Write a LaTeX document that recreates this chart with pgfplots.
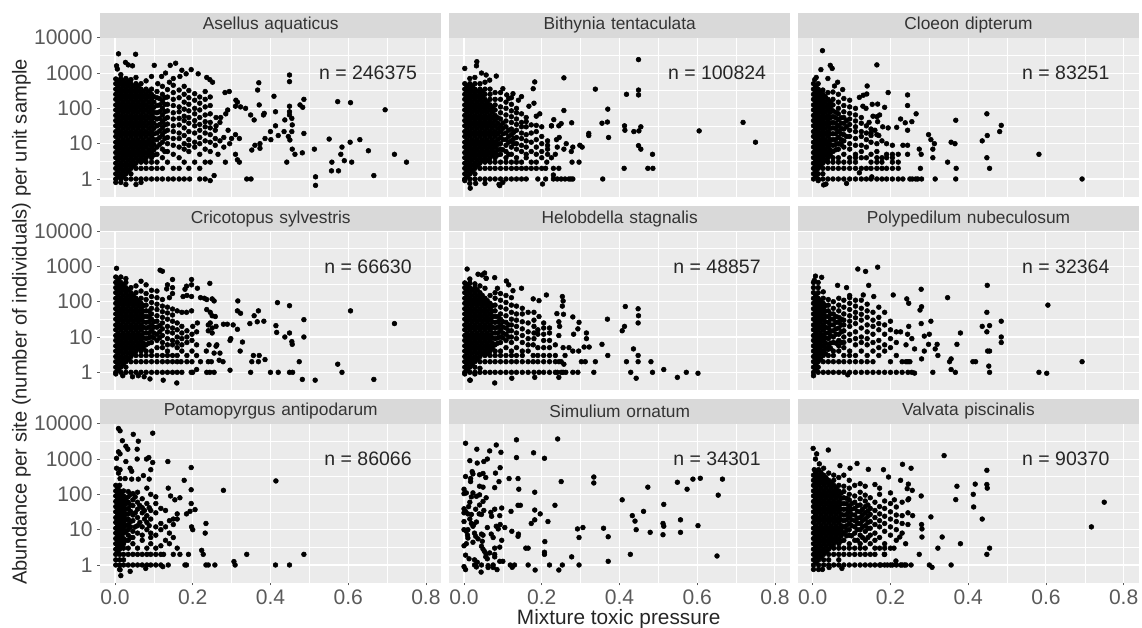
\documentclass[border=0pt]{standalone}
\usepackage{pgfplots}
\pgfplotsset{compat=1.18}
\usepackage{fontspec}
\setmainfont{Liberation Sans}
\definecolor{panelbg}{HTML}{EBEBEB}
\definecolor{stripbg}{HTML}{D9D9D9}
\definecolor{ticktxt}{HTML}{5A5A5A}
\definecolor{striptxt}{HTML}{333333}
\pgfplotsset{
  panel/.style={
    at={(#1)},anchor=south west,scale only axis,
    width=256.1pt,height=120pt,
    xmin=-0.0386,xmax=0.84,ymin=0.316,ymax=10715,
    axis background/.style={fill=panelbg},
    axis line style={draw=none},
    xtick={0,0.2,0.4,0.6,0.8},minor xtick={0.1,0.3,0.5,0.7},
    ytick={1,10,100,1000,10000},minor ytick={3.162,31.62,316.2,3162},
    grid=both,major grid style={white,line width=0.8pt},minor grid style={white,line width=0.35pt},
    minor tick length=0pt,major tick length=2pt,tick align=outside,
    xticklabels={},yticklabels={},
    x tick style={draw=none},y tick style={draw=none},
    tick label style={font=\fontsize{15.8pt}{17pt}\selectfont,text=ticktxt},
    xtick pos=bottom,ytick pos=left,
    title style={at={(0.5,1)},anchor=south,yshift=-6.9pt,fill=stripbg,inner sep=0pt,
      text width=256.1pt,align=center,minimum height=18.4pt,text=striptxt,
      font=\fontsize{13pt}{14pt}\selectfont},
  },
  lft/.style={yticklabels={1,10,100,1000,10000},y tick style={draw=ticktxt,line width=0.5pt}},
  bot/.style={xticklabels={0.0,0.2,0.4,0.6,0.8},x tick style={draw=ticktxt,line width=0.5pt}},
  pts/.style={only marks,mark=*,mark size=1.8pt,mark options={fill=black,draw=none},black},
}
\newcommand{\nlab}[1]{\node[font=\fontsize{14.6pt}{16pt}\selectfont,text=black!85] at (rel axis cs:0.785,0.773) {n = #1};}
\begin{document}
\begin{tikzpicture}
\path[use as bounding box] (0pt,0pt) rectangle (856.5pt,471pt);
% row 1
\begin{semilogyaxis}[panel={75pt,323.5pt},lft,title={Asellus aquaticus}]
\addplot[pts] coordinates {(.002,.8)(.002,1)(.002,1.4)(.002,2)(.002,2.8)(.002,4)(.002,5.6)(.002,8)(.002,11)(.002,16)(.002,22)(.002,32)(.002,45)(.002,63)(.002,90)(.002,125)(.002,180)(.002,250)(.002,350)(.002,500)(.002,680)
(.015,.8)(.015,1)(.015,1.4)(.015,2)(.015,2.8)(.015,4)(.015,5.6)(.015,8)(.015,11)(.015,16)(.015,22)(.015,32)(.015,45)(.015,63)(.015,90)(.015,125)(.015,180)(.015,250)(.015,350)(.015,500)(.015,700)(.015,900)
(.028,.7)(.028,1)(.028,1.4)(.028,2)(.028,2.8)(.028,4)(.028,5.6)(.028,8)(.028,11)(.028,16)(.028,22)(.028,32)(.028,45)(.028,63)(.028,90)(.028,125)(.028,180)(.028,250)(.028,350)(.028,500)(.028,700)
(.041,1)(.041,1.4)(.041,2)(.041,2.8)(.041,4)(.041,5.6)(.041,8)(.041,11)(.041,16)(.041,22)(.041,32)(.041,45)(.041,63)(.041,90)(.041,125)(.041,180)(.041,250)(.041,350)(.041,500)(.041,650)
(.054,.7)(.054,1)(.054,2)(.054,2.8)(.054,4)(.054,5.6)(.054,8)(.054,11)(.054,16)(.054,22)(.054,32)(.054,45)(.054,63)(.054,90)(.054,125)(.054,180)(.054,250)(.054,350)(.054,500)(.054,750)
(.067,.8)(.067,1)(.067,2)(.067,3)(.067,4)(.067,5.6)(.067,8)(.067,11)(.067,16)(.067,22)(.067,32)(.067,45)(.067,63)(.067,90)(.067,125)(.067,180)(.067,250)(.067,350)(.067,500)
(.08,1)(.08,2)(.08,3)(.08,4)(.08,5.6)(.08,8)(.08,11)(.08,16)(.08,22)(.08,32)(.08,45)(.08,63)(.08,90)(.08,125)(.08,180)(.08,250)(.08,350)(.08,600)
(.094,1)(.094,2)(.094,3)(.094,4)(.094,5.6)(.094,8)(.094,11)(.094,16)(.094,22)(.094,32)(.094,45)(.094,63)(.094,90)(.094,125)(.094,180)(.094,250)(.094,350)(.094,800)
(.009,3500)(.053,3400)(.027,2000)(.034,1700)(.045,1600)(.004,1600)(.006,1300)(.101,1650)(.142,1650)(.156,1900)(.172,1200)(.196,1250)(.214,950)(.183,950)(.167,800)(.236,750)(.244,650)(.251,550)(.13,1000)(.12,800)(.15,700)
(.108,1)(.108,2)(.108,3)(.108,5)(.108,8)(.108,13)(.108,20)(.108,32)(.108,50)(.108,75)(.108,120)(.108,200)(.108,300)(.11,500)
(.122,1)(.122,2)(.122,4)(.122,7)(.122,11)(.122,18)(.122,28)(.122,42)(.122,65)(.122,100)(.122,160)(.122,250)(.122,420)
(.137,1)(.135,3)(.135,6)(.135,10)(.135,15)(.135,24)(.135,36)(.135,55)(.135,85)(.135,130)(.135,210)(.135,340)(.14,550)
(.15,1)(.15,2)(.15,5)(.15,9)(.15,14)(.15,22)(.15,32)(.15,50)(.15,75)(.15,120)(.15,180)(.15,280)(.15,450)
(.165,1)(.165,2)(.165,4)(.165,8)(.165,14)(.165,20)(.165,34)(.165,52)(.165,80)(.165,110)(.165,200)(.165,330)
(.178,1)(.178,3)(.178,7)(.178,10)(.178,17)(.178,28)(.178,45)(.178,60)(.178,95)(.178,150)(.178,250)(.178,420)
(.192,1)(.19,2)(.19,6)(.19,9)(.19,13)(.19,22)(.19,38)(.19,55)(.19,85)(.19,130)(.19,200)(.19,320)
(.205,3)(.205,8)(.205,11)(.205,20)(.205,32)(.205,45)(.205,70)(.205,100)(.205,170)(.205,260)
(.218,1)(.218,2)(.218,5)(.218,10)(.218,15)(.218,24)(.218,35)(.218,55)(.218,90)(.218,140)(.218,210)
(.232,1)(.232,3)(.232,7)(.232,12)(.232,20)(.232,30)(.232,42)(.232,65)(.232,110)(.232,180)(.232,300)
(.245,.9)(.245,3)(.245,6)(.245,11)(.245,18)(.245,28)(.245,40)(.245,70)(.245,120)(.245,210)
(.255,1.25)(.258,9)(.258,14)(.258,24)(.26,55)(.26,32)(.265,5)(.27,12)(.27,40)(.272,55)(.283,280)(.294,300)(.29,90)(.285,70)(.28,15)(.28,8)(.284,3)(.291,24)(.3,14)(.295,10)(.31,18)
(.31,5)(.315,3.5)(.32,3)(.32,14)(.311,170)(.315,150)(.31,115)(.323,110)(.336,100)(.349,65)(.358,47)(.37,530)(.367,330)(.371,125)(.382,65)(.384,72)(.409,220)(.413,80)(.449,880)(.449,570)(.449,115)(.449,80)(.449,65)(.437,47)(.455,52)(.456,34)(.413,32)(.4,22)(.42,17)(.435,22)(.446,16)(.455,22)(.45,12.7)(.456,7)(.463,5)(.442,3)(.482,5.5)(.476,125)(.486,180)(.483,107)(.486,19.5)(.386,14)(.401,13)(.373,10)(.36,9)(.352,6.6)(.373,7.4)(.513,7)(.516,1.15)(.516,.66)(.551,13.5)(.573,155)(.606,145)(.695,91)(.63,13)(.652,6.3)(.605,11)(.584,8)(.581,5)(.59,3.3)(.558,3)(.609,3)(.557,1.7)(.575,1.7)(.666,1.25)(.719,5)(.75,3)(.339,1)(.35,1)};
\addplot[pts] coordinates {(.008,1.2)(.008,1.7)(.008,2.4)(.008,3.4)(.008,4.8)(.008,6.7)(.008,9.5)(.008,13)(.008,19)(.008,27)(.008,38)(.008,54)(.008,77)(.008,107)(.008,150)(.008,215)(.008,300)(.008,420)(.008,590)
(.021,1.2)(.021,1.7)(.021,2.4)(.021,3.4)(.021,4.8)(.021,6.7)(.021,9.5)(.021,13)(.021,19)(.021,27)(.021,38)(.021,54)(.021,77)(.021,107)(.021,150)(.021,215)(.021,300)(.021,420)(.021,590)
(.034,1.7)(.034,2.4)(.034,3.4)(.034,4.8)(.034,6.7)(.034,9.5)(.034,13)(.034,19)(.034,27)(.034,38)(.034,54)(.034,77)(.034,107)(.034,150)(.034,215)(.034,300)(.034,420)(.034,590)
(.047,2.4)(.047,3.4)(.047,4.8)(.047,6.7)(.047,9.5)(.047,13)(.047,19)(.047,27)(.047,38)(.047,54)(.047,77)(.047,107)(.047,150)(.047,215)(.047,300)(.047,420)
(.06,3.4)(.06,4.8)(.06,6.7)(.06,9.5)(.06,13)(.06,19)(.06,27)(.06,38)(.06,54)(.06,77)(.06,107)(.06,150)(.06,215)(.06,300)(.06,420)
(.073,3.4)(.073,4.8)(.073,6.7)(.073,9.5)(.073,13)(.073,19)(.073,27)(.073,38)(.073,54)(.073,77)(.073,107)(.073,150)(.073,215)(.073,300)
(.087,4.8)(.087,6.7)(.087,9.5)(.087,13)(.087,19)(.087,27)(.087,38)(.087,54)(.087,77)(.087,107)(.087,150)(.087,215)(.087,300)
(.1,4.8)(.1,6.7)(.1,9.5)(.1,13)(.1,19)(.1,27)(.1,38)(.1,54)(.1,77)(.1,107)(.1,150)(.1,215)(.115,9.5)(.115,15)(.115,23)(.115,35)(.115,52)(.115,80)(.115,125)(.115,190)(.128,6)(.128,14)(.128,22)(.128,34)(.128,50)(.128,80)(.128,130)(.128,200)};
\nlab{246375}
\end{semilogyaxis}
\begin{semilogyaxis}[panel={336.75pt,323.5pt},title={Bithynia tentaculata}]
\addplot[pts] coordinates {(.002,.9)(.002,1)(.002,1.4)(.002,2)(.002,2.8)(.002,4)(.002,5.6)(.002,8)(.002,11)(.002,16)(.002,22)(.002,32)(.002,45)(.002,63)(.002,90)(.002,125)(.002,180)(.002,250)(.002,350)(.002,500)
(.015,.75)(.015,1)(.015,1.4)(.015,2)(.015,2.8)(.015,4)(.015,5.6)(.015,8)(.015,11)(.015,16)(.015,22)(.015,32)(.015,45)(.015,63)(.015,90)(.015,125)(.015,180)(.015,250)(.015,350)(.015,500)(.015,700)(.016,.55)
(.028,1)(.028,1.4)(.028,2)(.028,2.8)(.028,4)(.028,5.6)(.028,8)(.028,11)(.028,16)(.028,22)(.028,32)(.028,45)(.028,63)(.028,90)(.028,125)(.028,180)(.028,250)(.028,350)(.028,500)(.028,750)(.03,.75)
(.041,1)(.041,2)(.041,2.8)(.041,4)(.041,5.6)(.041,8)(.041,11)(.041,16)(.041,22)(.041,32)(.041,45)(.041,63)(.041,90)(.041,125)(.041,180)(.041,250)(.041,350)(.041,500)
(.054,1)(.054,2)(.054,3)(.054,4)(.054,5.6)(.054,8)(.054,11)(.054,16)(.054,22)(.054,32)(.054,45)(.054,63)(.054,90)(.054,125)(.054,180)(.054,250)(.054,350)(.054,550)(.054,.75)
(.067,1)(.067,2)(.067,3)(.067,4)(.067,5.6)(.067,8)(.067,11)(.067,16)(.067,22)(.067,32)(.067,45)(.067,63)(.067,90)(.067,125)(.067,180)(.067,250)(.067,350)
(.08,1)(.08,2)(.08,3)(.08,4)(.08,5.6)(.08,8)(.08,11)(.08,16)(.08,22)(.08,32)(.08,45)(.08,63)(.08,90)(.08,125)(.08,180)(.08,280)(.09,.7)(.092,.65)
(.094,1)(.094,2)(.094,3)(.094,5)(.094,7)(.094,10)(.094,15)(.094,22)(.094,32)(.094,50)(.094,75)(.094,110)(.094,180)(.094,280)(.1,.8)
(.108,1)(.108,2)(.108,3)(.108,4)(.108,6)(.108,9)(.108,13)(.108,20)(.108,30)(.108,44)(.108,65)(.108,100)(.108,150)(.11,240)
(.122,1)(.122,2)(.122,3)(.122,5)(.122,8)(.122,12)(.122,18)(.122,26)(.122,40)(.122,58)(.122,85)(.122,130)(.122,200)
(.135,1)(.135,2)(.135,3)(.135,4)(.135,7)(.135,10)(.135,15)(.135,24)(.135,35)(.135,50)(.135,75)(.135,100)(.14,170)
(.148,1)(.148,2)(.148,3)(.148,6)(.148,9)(.148,14)(.148,20)(.148,30)(.148,40)(.148,70)(.148,215)
(.16,1)(.16,2)(.16,4)(.16,5)(.16,8)(.16,12)(.16,18)(.16,30)(.16,42)(.16,55)(.167,115)(.18,140)(.173,2)(.173,3)(.173,6)(.173,11)(.173,20)(.173,34)(.19,1)(.186,2)(.186,3)(.186,5)(.186,8)(.186,13)(.186,22)(.186,33)(.186,60)(.195,70)(.2,2)(.2,4)(.2,6)(.2,10)(.2,16)(.2,30)(.202,.72)(.21,1)(.21,2)(.213,3)(.215,5)(.215,7)(.215,9)(.215,12)(.225,4)(.225,32)(.23,1)(.23,2)(.23,1.3)
(.033,2100)(.032,1600)(.002,1350)(.045,1000)(.057,880)(.083,820)(.066,630)(.182,560)(.257,730)(.338,350)(.178,360)(.418,250)(.449,330)(.449,240)(.449,2400)(.37,95)(.257,87)(.277,39)(.355,38)(.369,41)(.321,19.5)(.321,17)(.372,15)(.413,32)(.414,24)(.437,22)(.45,23)(.455,30)(.449,8.8)(.455,7)(.485,5)(.412,2)(.473,2)(.486,2)(.357,1)(.605,23)(.718,40)(.75,11)(.278,3)(.296,3)(.244,2)(.276,6)(.28,8)(.298,9)(.304,8)(.263,10)(.257,7)(.238,13)(.231,48)(.25,37)(.225,32)(.244,32)(.245,15)(.24,8)(.235,5)(.126,260)(.115,190)(.1,360)(.24,1)(.25,1)(.26,1)(.27,1)(.275,1)(.28,1)};
\addplot[pts] coordinates {(.008,1.2)(.008,1.7)(.008,2.4)(.008,3.4)(.008,4.8)(.008,6.7)(.008,9.5)(.008,13)(.008,19)(.008,27)(.008,38)(.008,54)(.008,77)(.008,107)(.008,150)(.008,215)(.008,300)(.008,420)
(.021,1.7)(.021,2.4)(.021,3.4)(.021,4.8)(.021,6.7)(.021,9.5)(.021,13)(.021,19)(.021,27)(.021,38)(.021,54)(.021,77)(.021,107)(.021,150)(.021,215)(.021,300)(.021,420)
(.034,2.4)(.034,3.4)(.034,4.8)(.034,6.7)(.034,9.5)(.034,13)(.034,19)(.034,27)(.034,38)(.034,54)(.034,77)(.034,107)(.034,150)(.034,215)(.034,300)
(.047,3.4)(.047,4.8)(.047,6.7)(.047,9.5)(.047,13)(.047,19)(.047,27)(.047,38)(.047,54)(.047,77)(.047,107)(.047,150)(.047,215)(.047,300)
(.06,3.4)(.06,4.8)(.06,6.7)(.06,9.5)(.06,13)(.06,19)(.06,27)(.06,38)(.06,54)(.06,77)(.06,107)(.06,150)
(.073,4.8)(.073,6.7)(.073,9.5)(.073,13)(.073,19)(.073,27)(.073,38)(.073,54)(.073,77)(.073,107)
(.087,4.8)(.087,6.7)(.087,9.5)(.087,13)(.087,19)(.087,27)(.087,38)(.087,54)(.1,6.7)(.1,13)(.1,19)(.1,27)(.1,38)(.115,5)(.115,11)(.115,16)(.115,24)(.128,10)(.128,14)(.128,21)};
\nlab{100824}
\end{semilogyaxis}
\begin{semilogyaxis}[panel={598.3pt,323.5pt},title={Cloeon dipterum}]
\addplot[pts] coordinates {(.002,1)(.002,1.4)(.002,2)(.002,2.8)(.002,4)(.002,5.6)(.002,8)(.002,11)(.002,16)(.002,22)(.002,32)(.002,45)(.002,63)(.002,90)(.002,125)(.002,180)(.002,250)(.002,350)(.002,500)(.005,650)
(.014,.9)(.014,1)(.014,1.4)(.014,2)(.014,2.8)(.014,4)(.014,5.6)(.014,8)(.014,11)(.014,16)(.014,22)(.014,32)(.014,45)(.014,63)(.014,90)(.014,125)(.014,180)(.014,250)(.014,350)(.014,500)
(.026,1)(.026,1.4)(.026,2)(.026,2.8)(.026,4)(.026,5.6)(.026,8)(.026,11)(.026,16)(.026,22)(.026,32)(.026,45)(.026,63)(.026,90)(.026,125)(.026,180)(.026,250)(.026,330)(.028,.68)(.034,.72)
(.039,1)(.039,2)(.039,3)(.039,4)(.039,5.6)(.039,8)(.039,11)(.039,16)(.039,22)(.039,32)(.039,45)(.039,63)(.039,90)(.039,125)(.039,180)(.039,280)
(.052,1)(.052,2)(.052,3)(.052,4)(.052,6)(.052,9)(.052,13)(.052,19)(.052,28)(.052,40)(.052,58)(.052,85)(.052,125)(.052,180)(.052,290)
(.066,1)(.066,2)(.066,3)(.066,4)(.066,7)(.066,10)(.066,15)(.066,22)(.066,32)(.066,48)(.066,70)(.066,100)(.066,150)(.066,250)
(.08,1)(.08,2)(.08,3)(.08,5)(.08,8)(.08,12)(.08,18)(.08,26)(.08,38)(.08,55)(.08,80)(.08,120)(.08,190)(.087,.75)
(.095,1)(.095,2)(.095,3)(.095,4)(.095,7)(.095,10)(.095,16)(.095,24)(.095,35)(.095,50)(.095,72)(.095,110)(.095,170)
(.11,1)(.11,2)(.11,3)(.11,4)(.11,5)(.11,9)(.11,14)(.11,22)(.11,30)(.11,44)(.11,65)(.11,100)(.12,1.5)
(.125,1)(.125,2)(.125,4)(.125,6)(.125,9)(.125,16)(.125,22)(.125,38)(.125,55)(.138,1)(.138,2)(.138,4)(.138,8)(.138,13)(.138,20)(.138,32)(.15,1)(.15,2)(.15,3)(.15,5)(.15,11)(.15,17)(.15,26)(.152,1.15)(.165,1)(.165,2)(.165,3)(.165,4)(.165,6)(.165,10)(.165,18)(.178,1)(.178,2)(.178,3)(.178,4)(.178,12)(.19,1)(.19,2)(.19,4)(.19,5)(.19,10)(.205,1)(.205,2)(.205,3)(.205,4)(.205,5)(.205,9)(.22,1)(.22,2)(.22,3)(.22,5)(.232,1)(.25,1)(.256,1)(.265,1)(.27,1)(.28,1)
(.025,4300)(.021,1250)(.045,1650)(.05,1350)(.165,1700)(.039,700)(.009,750)(.064,550)(.056,430)(.077,340)(.14,430)(.139,255)(.12,205)(.13,235)(.194,280)(.244,240)(.244,120)(.266,70)(.226,50)(.238,39)(.255,42)(.244,24)(.216,29)(.194,28)(.185,107)(.167,132)(.153,130)(.137,100)(.129,115)(.172,65)(.165,58)(.167,42)(.298,18)(.304,13)(.313,10)(.309,7)(.309,4)(.347,3)(.277,2)(.279,5)(.274,7)(.244,9)(.232,9)(.244,5)(.356,11)(.366,10)(.368,46)(.448,70)(.485,33)(.481,22)(.449,17)(.436,12)(.448,4)(.369,2)(.455,2)(.582,5)(.693,1)(.315,1)(.368,1)(.15,20)(.16,24)(.17,17)(.18,30)(.145,40)(.155,60)};
\addplot[pts] coordinates {(.008,1.2)(.008,1.7)(.008,2.4)(.008,3.4)(.008,4.8)(.008,6.7)(.008,9.5)(.008,13)(.008,19)(.008,27)(.008,38)(.008,54)(.008,77)(.008,107)(.008,150)(.008,215)(.008,300)(.008,420)
(.02,2.4)(.02,3.4)(.02,4.8)(.02,6.7)(.02,9.5)(.02,13)(.02,19)(.02,27)(.02,38)(.02,54)(.02,77)(.02,107)(.02,150)(.02,215)(.02,300)
(.032,3.4)(.032,4.8)(.032,6.7)(.032,9.5)(.032,13)(.032,19)(.032,27)(.032,38)(.032,54)(.032,77)(.032,107)(.032,150)(.032,215)
(.045,4.8)(.045,6.7)(.045,9.5)(.045,13)(.045,19)(.045,27)(.045,38)(.045,54)(.045,77)(.045,107)(.045,150)
(.059,6.7)(.059,9.5)(.059,13)(.059,19)(.059,27)(.059,38)(.059,54)(.059,77)(.073,9.5)(.073,13)(.073,19)(.073,27)(.073,38)(.073,54)(.087,16)(.087,30)(.087,45)};
\nlab{83251}
\end{semilogyaxis}
% row 2
\begin{semilogyaxis}[panel={75pt,178.5pt},lft,title={Cricotopus sylvestris}]
\addplot[pts] coordinates {(.002,.9)(.002,1)(.002,1.4)(.002,2)(.002,2.8)(.002,4)(.002,5.6)(.002,8)(.002,11)(.002,16)(.002,22)(.002,32)(.002,45)(.002,63)(.002,90)(.002,125)(.002,180)(.002,250)(.002,350)(.002,500)(.004,880)
(.015,1)(.015,1.4)(.015,2)(.015,2.8)(.015,4)(.015,5.6)(.015,8)(.015,11)(.015,16)(.015,22)(.015,32)(.015,45)(.015,63)(.015,90)(.015,125)(.015,180)(.015,250)(.015,350)(.015,500)(.02,.8)
(.028,1)(.028,1.4)(.028,2)(.028,2.8)(.028,4)(.028,5.6)(.028,8)(.028,11)(.028,16)(.028,22)(.028,32)(.028,45)(.028,63)(.028,90)(.028,125)(.028,180)(.028,250)(.028,350)(.028,450)
(.041,1)(.041,2)(.041,2.8)(.041,4)(.041,5.6)(.041,8)(.041,11)(.041,16)(.041,22)(.041,32)(.041,45)(.041,63)(.041,90)(.041,125)(.041,180)(.041,250)(.045,.75)
(.054,1)(.054,2)(.054,3)(.054,4)(.054,5.6)(.054,8)(.054,11)(.054,16)(.054,22)(.054,32)(.054,45)(.054,63)(.054,90)(.054,125)(.054,180)(.054,280)(.06,.8)
(.067,1)(.067,2)(.067,3)(.067,4)(.067,5.6)(.067,8)(.067,11)(.067,16)(.067,22)(.067,32)(.067,45)(.067,63)(.067,90)(.067,125)(.067,200)(.067,380)(.075,.75)
(.08,1)(.08,2)(.08,3)(.08,4)(.08,6)(.08,9)(.08,13)(.08,18)(.08,26)(.08,38)(.08,55)(.08,80)(.08,115)(.08,170)(.08,300)(.09,.65)
(.094,1)(.094,2)(.094,3)(.094,4)(.094,7)(.094,10)(.094,15)(.094,22)(.094,32)(.094,45)(.094,65)(.094,95)(.094,140)(.094,210)
(.108,1)(.108,2)(.108,3)(.108,5)(.108,8)(.108,12)(.108,19)(.108,28)(.108,40)(.108,60)(.108,85)(.108,130)(.108,200)(.116,780)(.122,730)
(.122,1)(.122,2)(.122,3)(.122,5)(.122,7)(.122,11)(.122,17)(.122,25)(.122,36)(.122,52)(.122,75)(.122,115)(.124,.6)
(.135,1)(.135,2)(.135,3)(.135,4)(.135,6)(.135,9)(.135,14)(.135,20)(.135,32)(.135,48)(.135,70)(.135,300)(.133,230)(.148,425)(.148,250)(.14,130)
(.148,1)(.148,2)(.148,3)(.148,6)(.148,8)(.148,13)(.148,18)(.148,28)(.148,42)(.148,62)(.148,170)(.159,.5)
(.16,1)(.16,2)(.16,3)(.16,5)(.16,7)(.16,10)(.16,16)(.16,25)(.16,55)(.172,1)(.17,2)(.172,4)(.172,6)(.172,9)(.172,13)(.172,20)(.172,50)(.18,225)(.184,275)(.197,300)(.197,425)(.212,240)(.184,50)(.185,2)(.185,3)(.185,7)(.185,10)(.185,15)(.175,140)(.185,150)(.197,140)(.197,55)(.2,20)
(.196,1)(.2,1)(.198,2)(.198,4)(.198,8)(.198,12)(.21,1.2)(.21,3)(.21,6)(.21,14)(.212,25)(.22,2)(.22,130)(.23,125)(.236,115)(.236,60)(.245,50)(.244,330)(.25,120)(.255,105)(.258,38)(.25,40)(.24,15)(.24,22)(.245,25)(.25,18)(.25,13)(.242,6)(.26,5.5)(.255,3.5)(.262,6)(.27,3.5)(.235,4)(.24,2)(.248,2)(.236,1)(.244,1)(.255,1)(.268,2.2)(.278,2)
(.316,105)(.418,94)(.449,77)(.606,55)(.315,55)(.323,47)(.369,55)(.358,40)(.347,24)(.366,27)(.383,28)(.486,31)(.414,21)(.719,24)(.416,13.5)(.449,13)(.437,10)(.486,10)(.455,7.4)(.456,6.2)(.328,7.2)(.322,4)(.298,9)(.296,8)(.315,16.5)(.304,22)(.279,23)(.289,23)(.26,20)(.356,3)(.371,3)(.352,2)(.369,2)(.386,2.3)(.474,2)(.573,1.7)(.584,1)(.349,1)(.4,1)(.42,1)(.449,1)(.457,1)(.482,.63)(.515,.6)(.666,.63)(.296,1.15)};
\addplot[pts] coordinates {(.008,1.2)(.008,1.7)(.008,2.4)(.008,3.4)(.008,4.8)(.008,6.7)(.008,9.5)(.008,13)(.008,19)(.008,27)(.008,38)(.008,54)(.008,77)(.008,107)(.008,150)(.008,215)(.008,300)(.008,420)
(.021,1.7)(.021,2.4)(.021,3.4)(.021,4.8)(.021,6.7)(.021,9.5)(.021,13)(.021,19)(.021,27)(.021,38)(.021,54)(.021,77)(.021,107)(.021,150)(.021,215)(.021,300)
(.034,2.4)(.034,3.4)(.034,4.8)(.034,6.7)(.034,9.5)(.034,13)(.034,19)(.034,27)(.034,38)(.034,54)(.034,77)(.034,107)(.034,150)(.034,215)
(.047,3.4)(.047,4.8)(.047,6.7)(.047,9.5)(.047,13)(.047,19)(.047,27)(.047,38)(.047,54)(.047,77)(.047,107)(.047,150)
(.06,4.8)(.06,6.7)(.06,9.5)(.06,13)(.06,19)(.06,27)(.06,38)(.06,54)(.06,77)(.06,107)
(.073,4.8)(.073,6.7)(.073,9.5)(.073,13)(.073,19)(.073,27)(.073,38)(.073,54)(.073,77)
(.087,6.7)(.087,9.5)(.087,13)(.087,19)(.087,27)(.087,38)(.087,54)(.1,9.5)(.1,13)(.1,19)(.1,27)(.115,9.5)(.115,14)(.115,21)};
\nlab{66630}
\end{semilogyaxis}
\begin{semilogyaxis}[panel={336.75pt,178.5pt},title={Helobdella stagnalis}]
\addplot[pts] coordinates {(.002,.9)(.002,1)(.002,1.4)(.002,2)(.002,2.8)(.002,4)(.002,5.6)(.002,8)(.002,11)(.002,16)(.002,22)(.002,32)(.002,45)(.002,63)(.002,90)(.002,125)(.002,180)(.002,250)(.002,340)
(.015,.6)(.015,1)(.015,1.4)(.015,2)(.015,2.8)(.015,4)(.015,5.6)(.015,8)(.015,11)(.015,16)(.015,22)(.015,32)(.015,45)(.015,63)(.015,90)(.015,125)(.015,180)(.015,250)(.015,340)(.015,440)
(.028,.9)(.028,1)(.028,1.4)(.028,2)(.028,2.8)(.028,4)(.028,5.6)(.028,8)(.028,11)(.028,16)(.028,22)(.028,32)(.028,45)(.028,63)(.028,90)(.028,125)(.028,180)(.028,250)(.028,320)
(.041,1)(.041,1.3)(.041,2)(.041,2.8)(.041,4)(.041,5.6)(.041,8)(.041,11)(.041,16)(.041,22)(.041,32)(.041,45)(.041,63)(.041,90)(.041,125)(.041,180)(.041,280)
(.054,1)(.054,2)(.054,3)(.054,4)(.054,5.6)(.054,8)(.054,11)(.054,16)(.054,22)(.054,32)(.054,45)(.054,63)(.054,90)(.054,125)(.054,240)(.057,460)
(.067,1)(.067,2)(.067,3)(.067,4)(.067,5.6)(.067,8)(.067,11)(.067,16)(.067,22)(.067,32)(.067,45)(.067,63)(.067,90)(.067,150)
(.08,1)(.08,2)(.08,3)(.08,4)(.08,6)(.08,9)(.08,13)(.08,18)(.08,26)(.08,38)(.08,55)(.08,80)(.08,125)(.08,180)
(.094,1)(.094,2)(.094,3)(.094,4)(.094,7)(.094,10)(.094,15)(.094,22)(.094,32)(.094,45)(.094,70)(.094,110)(.094,170)
(.108,1)(.108,2)(.108,3)(.108,5)(.108,8)(.108,12)(.108,18)(.108,26)(.108,40)(.108,62)(.108,95)(.108,150)
(.122,1)(.122,2)(.122,3)(.122,4)(.122,7)(.122,10)(.122,15)(.122,22)(.122,32)(.122,50)(.122,80)(.122,130)
(.135,1)(.135,2)(.135,3)(.135,5)(.135,9)(.135,13)(.135,20)(.135,30)(.135,45)(.135,75)(.15,1)(.15,2)(.15,3)(.15,4)(.15,7)(.15,11)(.15,17)(.15,27)(.15,45)(.15,65)(.165,1)(.165,2)(.165,4)(.165,6)(.165,9)(.165,14)(.165,25)(.165,50)(.18,1)(.178,2)(.178,3)(.178,6)(.18,9)(.18,13)(.18,20)(.18,30)(.18,50)(.193,1)(.19,2)(.19,3)(.19,5)(.19,12)(.19,16)(.193,38)(.205,1)(.205,2)(.205,3)(.205,5)(.205,8)(.205,12)(.205,25)(.205,18)(.22,1)(.22,2)(.22,3)(.22,5)(.22,8)(.22,13)(.22,18)(.235,1)(.235,3)(.235,2)(.235,6)(.24,1)(.25,1)(.255,1)(.262,1)(.255,5)(.26,3)(.27,5)(.28,4)(.25,2)(.257,1.7)
(.008,840)(.053,650)(.036,600)(.046,570)(.057,460)(.079,480)(.109,385)(.115,300)(.148,240)(.126,205)(.086,240)(.212,155)(.253,140)(.255,105)(.253,75)(.178,120)(.193,107)(.415,73)(.448,63)(.449,40)(.448,25)(.369,32)(.28,37)(.296,26)(.293,17)(.282,12)(.315,13)(.315,9)(.256,44)(.239,46)(.244,27)(.246,20)(.244,11)(.413,20)(.407,15)(.355,6.2)(.322,5.2)(.309,5.2)(.436,4.6)(.448,3)(.37,3)(.418,2)(.448,2)(.481,2)(.338,2)(.312,2)(.302,2)(.244,2)(.295,4)(.334,1)(.293,1)(.28,1)(.429,1)(.485,1)(.514,1.2)(.572,1)(.602,.94)(.549,.72)(.443,.68)(.244,.72)(.182,.72)(.123,.68)(.079,.5)(.016,.6)};
\addplot[pts] coordinates {(.008,1.2)(.008,1.7)(.008,2.4)(.008,3.4)(.008,4.8)(.008,6.7)(.008,9.5)(.008,13)(.008,19)(.008,27)(.008,38)(.008,54)(.008,77)(.008,107)(.008,150)(.008,215)(.008,300)
(.021,1.7)(.021,2.4)(.021,3.4)(.021,4.8)(.021,6.7)(.021,9.5)(.021,13)(.021,19)(.021,27)(.021,38)(.021,54)(.021,77)(.021,107)(.021,150)(.021,215)
(.034,2.4)(.034,3.4)(.034,4.8)(.034,6.7)(.034,9.5)(.034,13)(.034,19)(.034,27)(.034,38)(.034,54)(.034,77)(.034,107)(.034,150)(.034,215)
(.047,3.4)(.047,4.8)(.047,6.7)(.047,9.5)(.047,13)(.047,19)(.047,27)(.047,38)(.047,54)(.047,77)(.047,107)(.047,150)
(.06,3.4)(.06,4.8)(.06,6.7)(.06,9.5)(.06,13)(.06,19)(.06,27)(.06,38)(.06,54)(.06,77)(.06,107)
(.073,4.8)(.073,6.7)(.073,9.5)(.073,13)(.073,19)(.073,27)(.073,38)(.073,54)(.073,77)
(.087,6.7)(.087,9.5)(.087,13)(.087,19)(.087,27)(.087,38)(.1,9.5)(.1,13)(.1,19)(.1,27)(.115,10)(.115,15)(.115,22)};
\nlab{48857}
\end{semilogyaxis}
\begin{semilogyaxis}[panel={598.3pt,178.5pt},title={Polypedilum nubeculosum}]
\addplot[pts] coordinates {(.002,.8)(.002,1)(.002,1.4)(.002,2)(.002,2.8)(.002,4)(.002,5.6)(.002,8)(.002,11)(.002,16)(.002,22)(.002,32)(.002,45)(.002,63)(.002,90)(.002,125)(.002,180)(.002,250)(.002,350)
(.014,1)(.014,1.4)(.014,2)(.014,2.8)(.014,4)(.014,5.6)(.014,8)(.014,11)(.014,16)(.014,22)(.014,32)(.014,45)(.014,63)(.014,90)(.014,125)(.014,180)(.014,250)(.014,350)
(.027,1)(.027,2)(.027,3)(.027,4)(.027,5.6)(.027,8)(.027,11)(.027,16)(.027,22)(.027,32)(.027,45)(.027,63)(.027,90)(.027,125)(.027,190)
(.04,1)(.04,2)(.04,3)(.04,4.5)(.04,6)(.04,9)(.04,13)(.04,18)(.04,26)(.04,38)(.04,55)(.04,80)(.04,115)
(.053,1)(.053,2)(.053,3)(.053,4)(.053,7)(.053,10)(.053,15)(.053,22)(.053,32)(.053,45)(.053,65)(.053,100)
(.067,1)(.067,2)(.067,4)(.067,5.6)(.067,8)(.067,12)(.067,18)(.067,26)(.067,36)(.067,55)(.067,80)(.067,125)
(.08,1)(.08,2)(.08,3)(.08,5)(.08,7)(.08,10)(.08,15)(.08,22)(.08,30)(.08,45)(.08,70)(.08,110)
(.095,1)(.095,2)(.095,3)(.095,4)(.095,8)(.095,12)(.095,20)(.095,28)(.095,40)(.095,60)(.095,90)(.095,130)(.09,.85)
(.11,1)(.11,2)(.11,3)(.11,6)(.11,9)(.11,14)(.11,24)(.11,35)(.11,50)(.11,75)(.11,110)(.125,1)(.125,2)(.125,4)(.125,7)(.125,10)(.125,18)(.125,30)(.125,44)(.125,65)(.125,110)(.14,1)(.14,2)(.14,3)(.14,6)(.14,9)(.14,14)(.14,22)(.14,36)(.14,55)(.14,85)(.155,1)(.155,2)(.155,4)(.155,7)(.155,12)(.155,20)(.155,30)(.155,50)(.17,1)(.17,3)(.17,5)(.17,8)(.17,16)(.17,24)(.17,36)(.17,70)(.185,1)(.185,4)(.185,6)(.185,12)(.185,22)(.185,50)(.2,1)(.2,2)(.2,5)(.2,9)(.2,16)(.2,28)(.215,1)(.215,3)(.215,7)(.215,14)(.23,1)(.23,2)(.245,1)(.245,2)(.255,1)(.262,.95)
(.116,840)(.136,720)(.167,950)(.007,530)(.023,490)(.004,400)(.064,290)(.087,250)(.144,290)(.279,225)(.449,290)(.207,155)(.347,130)(.242,120)(.247,90)(.13,155)(.157,140)(.095,150)(.605,80)(.28,72)(.276,58)(.448,50)(.485,28)(.304,28)(.279,24)(.247,20)(.226,14)(.244,12)(.255,9)(.287,10.6)(.3,12)(.436,20)(.455,21)(.448,14)(.38,13)(.485,10)(.485,7)(.371,6.2)(.32,6.2)(.298,6.2)(.287,4)(.315,4.6)(.322,3)(.262,4.6)(.24,6)(.28,2.4)(.356,2.4)(.352,2)(.412,2)(.419,2)(.45,4)(.455,4)(.453,1.5)(.693,2)(.582,1)(.602,.94)(.455,1)(.356,1.2)(.367,1)(.309,1)(.24,2)(.25,2)};
\addplot[pts] coordinates {(.008,1.2)(.008,1.7)(.008,2.4)(.008,3.4)(.008,4.8)(.008,6.7)(.008,9.5)(.008,13)(.008,19)(.008,27)(.008,38)(.008,54)(.008,77)(.008,107)(.008,150)
(.02,2.4)(.02,3.4)(.02,4.8)(.02,6.7)(.02,9.5)(.02,13)(.02,19)(.02,27)(.02,38)(.02,54)(.02,77)(.02,107)
(.033,3.4)(.033,4.8)(.033,6.7)(.033,9.5)(.033,13)(.033,19)(.033,27)(.033,38)(.033,54)(.033,77)
(.046,4.8)(.046,6.7)(.046,11)(.046,15)(.046,22)(.046,32)(.046,45)(.06,6.7)(.06,12)(.06,17)(.06,26)(.06,38)(.074,7)(.074,14)(.074,22)(.074,32)};
\nlab{32364}
\end{semilogyaxis}
% row 3
\begin{semilogyaxis}[panel={75pt,34pt},lft,bot,title={Potamopyrgus antipodarum}]
\addplot[pts] coordinates {(.002,1)(.002,1.4)(.002,2)(.002,2.8)(.002,4)(.002,5.6)(.002,8)(.002,11)(.002,16)(.002,22)(.002,32)(.002,45)(.002,63)(.002,90)(.002,125)(.002,180)
(.012,.75)(.012,1)(.012,1.4)(.012,2)(.012,2.8)(.012,4)(.012,5.6)(.012,8)(.012,11)(.012,16)(.012,22)(.012,32)(.012,45)(.012,63)(.012,90)(.012,125)(.012,180)
(.022,1)(.022,1.4)(.022,2)(.022,3)(.022,4)(.022,5.6)(.022,8)(.022,11)(.022,16)(.022,22)(.022,32)(.022,45)(.022,63)(.022,90)(.022,125)
(.034,1)(.034,2)(.034,3)(.034,5)(.034,7)(.034,10)(.034,14)(.034,20)(.034,28)(.034,40)(.034,60)(.034,85)(.034,120)
(.046,1)(.046,2)(.046,4)(.046,6)(.046,9)(.046,18)(.046,26)(.046,48)(.046,70)(.046,105)(.058,1)(.058,2)(.058,3)(.058,8)(.058,13)(.058,22)(.058,38)(.058,60)(.058,115)(.07,1)(.07,2)(.07,5)(.07,7)(.07,12)(.07,30)(.07,42)(.07,75)(.082,1)(.082,2)(.082,3)(.082,10)(.082,16)(.082,25)(.082,55)(.082,150)(.092,1)(.092,2)(.092,4)(.092,6)(.092,8)(.092,20)(.092,35)(.092,100)(.105,1)(.105,2)(.105,3)(.105,7)(.105,12)(.105,30)(.105,55)(.105,85)(.118,1)(.118,2)(.118,3.5)(.118,10)(.118,15)(.118,40)(.125,2)(.13,5)(.13,12)(.13,35)(.14,4)(.14,8)(.14,18)(.15,6)(.15,14)(.16,20)(.16,3)(.16,28)
(.009,7300)(.013,6300)(.047,5000)(.097,5400)(.06,3200)(.019,3300)(.028,2300)(.033,1900)(.057,1900)(.009,1600)(.013,1400)(.004,1050)(.057,1000)(.081,1000)(.087,1100)(.097,800)(.136,850)(.028,850)(.196,575)(.092,500)(.039,550)(.043,450)(.004,550)(.013,500)(.009,400)(.073,340)(.178,250)(.088,270)(.043,270)(.06,270)(.026,280)(.013,280)(.414,240)(.279,130)(.196,135)(.137,150)(.143,90)(.154,70)(.167,80)(.196,55)(.206,37)(.193,33)(.184,28)(.15,20)(.234,15)(.232,8)(.197,12)(.2,10)(.223,2.6)(.227,2)(.189,2)(.167,2)(.15,2)(.339,2)(.486,2)(.137,1)(.18,1)(.184,1)(.234,1)(.24,1)(.257,1)(.306,1.25)(.309,1)(.413,1)(.449,1)(.123,.9)(.015,.5)(.039,.66)(.079,.8)(.013,.73)};
\addplot[pts] coordinates {(.007,2.4)(.007,3.4)(.007,4.8)(.007,6.7)(.007,9.5)(.007,13)(.007,19)(.007,27)(.007,38)(.007,54)(.007,77)(.007,107)(.007,150)
(.017,3.4)(.017,4.8)(.017,6.7)(.017,9.5)(.017,13)(.017,19)(.017,27)(.017,38)(.017,54)(.017,77)(.017,107)(.028,5)(.028,9)(.028,13)(.028,19)(.028,27)(.028,38)(.028,54)(.028,77)(.04,6)(.04,12)(.04,17)(.04,33)(.04,50)(.04,100)(.052,12)(.052,30)(.052,85)(.064,16)(.064,48)(.076,20)(.076,35)(.088,13)(.088,42)};
\nlab{86066}
\end{semilogyaxis}
\begin{semilogyaxis}[panel={336.75pt,34pt},bot,title={Simulium ornatum}]
\addplot[pts] coordinates {(.004,2800)(.033,1900)(.083,2500)(.066,1700)(.095,1550)(.135,3500)(.241,3700)(.135,1100)(.179,1500)(.207,1050)(.015,900)(.034,770)(.051,850)(.06,1000)(.093,570)(.081,400)(.021,440)(.023,380)(.004,320)(.04,360)(.049,390)(.056,300)(.017,280)(.017,230)(.09,230)(.116,280)(.139,280)(.25,230)(.334,310)(.334,210)(.04,170)(.049,160)(.079,155)(.141,140)(.182,115)(.473,160)(.549,220)(.574,140)(.589,270)(.608,285)(.665,270)(.654,95)(0,140)(0,105)(.006,110)(.019,85)(.023,110)(.032,88)(.04,97)(.057,80)(.015,60)(.04,50)(.049,63)(.139,49)(.145,49)(.234,49)(.407,70)(.514,52)(0,39)(.004,33)(.01,28)(.019,27)(0,30)(.039,28)(.045,27)(.051,35)(.069,31)(.071,24)(.079,38)(.097,41)(.092,25)(.121,33)(.182,36)(.196,28)(.182,19)(.173,15)(.216,17)(.462,33)(.433,25)(.44,17.5)(.557,19)(.602,13)(.512,15)(.514,12.5)(.443,10)(.479,8.4)(.512,7.2)(.557,8.4)(.292,10.5)(.306,11.5)(.359,11)(.296,6)(.371,6.3)(0,17)(0,10)(.006,9)(.01,10)(.019,15)(.023,12.5)(.032,16.5)(.027,8)(.06,11.5)(.083,12.5)(.093,14)(.088,10.5)(.105,11.5)(.123,9)(.139,6.5)(.14,7.5)(.045,7.5)(.049,7)(.07,7.5)(.075,6)(.047,4.7)(.01,5.8)(.023,4.4)(0,3.5)(.006,4)(.097,5)(.079,3)(.092,3.2)(.045,3.4)(.049,2.8)(.053,2.4)(.057,2)(.066,2.2)(.079,2)(.079,1.7)(.06,1.5)(.159,3)(.165,3)(.208,4.6)(.207,2.3)(.207,2)(.277,1.7)(.428,2)(.651,1.8)(.004,1.9)(.013,1.5)(.027,1.4)(.371,1.27)(.027,1)(.045,1)(.062,.96)(.075,1)(.092,1.27)(.1,1.27)(.119,1)(.13,1)(.165,1)(.22,1)(.253,1)(.296,1)(0,.9)(.004,.74)(.032,.88)(.044,.63)(.062,.85)(.085,.74)(.124,.86)(.183,.72)(.244,.72)(.034,1.2)(.075,.85)(.056,1.7)(.009,7)(.03,6.5)(.036,5.5)(.015,20)(.025,14)(.012,45)(.03,38)};
\nlab{34301}
\end{semilogyaxis}
\begin{semilogyaxis}[panel={598.3pt,34pt},bot,title={Valvata piscinalis}]
\addplot[pts] coordinates {(.002,.75)(.002,1)(.002,1.4)(.002,2)(.002,2.8)(.002,4)(.002,5.6)(.002,8)(.002,11)(.002,16)(.002,22)(.002,32)(.002,45)(.002,63)(.002,90)(.002,125)(.002,180)(.002,250)(.002,350)(.004,500)
(.015,.75)(.015,1)(.015,1.4)(.015,2)(.015,2.8)(.015,4)(.015,5.6)(.015,8)(.015,11)(.015,16)(.015,22)(.015,32)(.015,45)(.015,63)(.015,90)(.015,125)(.015,180)(.015,250)(.015,350)(.015,500)(.017,730)
(.028,1)(.028,1.4)(.028,2)(.028,2.8)(.028,4)(.028,5.6)(.028,8)(.028,11)(.028,16)(.028,22)(.028,32)(.028,45)(.028,63)(.028,90)(.028,125)(.028,180)(.028,250)(.028,350)(.028,550)(.025,.75)
(.041,1)(.041,1.4)(.041,2)(.041,2.8)(.041,4)(.041,5.6)(.041,8)(.041,11)(.041,16)(.041,22)(.041,32)(.041,45)(.041,63)(.041,90)(.041,125)(.041,180)(.041,250)(.041,400)(.042,.85)
(.054,1)(.054,2)(.054,3)(.054,4)(.054,5.6)(.054,8)(.054,11)(.054,16)(.054,22)(.054,32)(.054,45)(.054,63)(.054,90)(.054,125)(.054,180)(.054,250)(.054,350)
(.067,1)(.067,1.4)(.067,2)(.067,3)(.067,4)(.067,5.6)(.067,8)(.067,11)(.067,16)(.067,22)(.067,32)(.067,45)(.067,63)(.067,90)(.067,125)(.067,180)(.067,300)(.07,650)(.075,.8)
(.08,1)(.08,2)(.08,3)(.08,5)(.08,8)(.08,12)(.08,18)(.08,26)(.08,38)(.08,55)(.08,80)(.08,120)(.08,170)(.08,350)
(.094,1)(.094,2)(.094,3)(.094,4)(.094,7)(.094,10)(.094,15)(.094,22)(.094,32)(.094,45)(.094,70)(.094,100)(.094,150)(.094,250)
(.108,1)(.108,2)(.108,3)(.108,5)(.108,8)(.108,12)(.108,18)(.108,26)(.108,40)(.108,60)(.108,90)(.108,180)
(.122,1)(.122,2)(.122,3)(.122,4)(.122,7)(.122,10)(.122,15)(.122,22)(.122,32)(.122,50)(.122,75)(.122,115)(.122,200)
(.135,1)(.135,2)(.135,3)(.135,5)(.135,9)(.135,13)(.135,20)(.135,30)(.135,45)(.135,65)(.135,95)(.135,170)
(.148,1)(.148,2)(.148,4)(.148,7)(.148,11)(.148,17)(.148,27)(.148,40)(.148,80)(.16,1)(.16,2)(.16,3)(.16,5)(.16,8)(.16,14)(.16,22)(.16,35)(.16,60)(.16,190)(.172,1)(.172,3)(.172,6)(.172,12)(.172,18)(.172,28)(.172,45)(.172,100)(.172,150)(.185,1)(.185,2)(.185,4)(.185,9)(.185,15)(.185,24)(.185,40)(.185,65)(.2,1)(.2,3)(.2,7)(.2,12)(.2,20)(.2,32)(.2,55)(.2,110)(.21,70)(.215,1)(.215,5)(.215,10)(.215,17)(.215,26)(.215,44)(.23,1)(.23,8)(.23,15)(.23,25)(.23,60)(.24,1)(.245,14)(.245,30)(.245,70)(.253,1)
(.001,2000)(.04,1800)(.01,1400)(.007,1000)(.338,1250)(.114,750)(.096,550)(.143,510)(.231,710)(.253,550)(.182,500)(.448,480)(.195,310)(.226,250)(.246,195)(.243,145)(.256,130)(.279,90)(.371,170)(.418,195)(.448,190)(.449,150)(.413,100)(.368,71)(.414,44)(.436,20)(.304,23)(.257,25)(.247,75)(.75,60)(.717,12)(.28,14)(.281,10.5)(.281,6.2)(.333,6.2)(.224,6.2)(.239,4)(.322,3)(.38,4)(.455,3)(.448,2)(.274,2)(.209,3)(.185,3)(.184,2)(.214,1.3)(.3,1)(.307,.86)(.356,1)(.236,1)(.226,1)(.205,1)(.192,1)(.175,1)};
\addplot[pts] coordinates {(.008,1.2)(.008,1.7)(.008,2.4)(.008,3.4)(.008,4.8)(.008,6.7)(.008,9.5)(.008,13)(.008,19)(.008,27)(.008,38)(.008,54)(.008,77)(.008,107)(.008,150)(.008,215)(.008,300)(.008,420)
(.021,1.7)(.021,2.4)(.021,3.4)(.021,4.8)(.021,6.7)(.021,9.5)(.021,13)(.021,19)(.021,27)(.021,38)(.021,54)(.021,77)(.021,107)(.021,150)(.021,215)(.021,300)(.021,420)
(.034,2.4)(.034,3.4)(.034,4.8)(.034,6.7)(.034,9.5)(.034,13)(.034,19)(.034,27)(.034,38)(.034,54)(.034,77)(.034,107)(.034,150)(.034,215)(.034,300)
(.047,3.4)(.047,4.8)(.047,6.7)(.047,9.5)(.047,13)(.047,19)(.047,27)(.047,38)(.047,54)(.047,77)(.047,107)(.047,150)(.047,215)
(.06,4.8)(.06,6.7)(.06,9.5)(.06,13)(.06,19)(.06,27)(.06,38)(.06,54)(.06,77)(.06,107)(.06,150)
(.073,4.8)(.073,6.7)(.073,9.5)(.073,13)(.073,19)(.073,27)(.073,38)(.073,54)(.073,77)(.073,107)
(.087,6.7)(.087,9.5)(.087,13)(.087,19)(.087,27)(.087,38)(.087,54)(.087,77)(.1,6.7)(.1,13)(.1,19)(.1,27)(.1,38)(.1,54)(.115,5)(.115,10)(.115,15)(.115,21)(.115,33)(.115,48)(.128,6)(.128,12)(.128,18)(.128,26)(.128,38)(.142,6)(.142,11)(.142,16)(.142,24)(.142,34)(.142,50)};
\nlab{90370}
\end{semilogyaxis}
\node[font=\fontsize{15.1pt}{16pt}\selectfont,text=black!85,rotate=90] at (16pt,229.5pt) {Abundance per site (number of individuals) per unit sample};
\node[font=\fontsize{15.6pt}{16pt}\selectfont,text=black!85] at (464pt,6.8pt) {Mixture toxic pressure};
\end{tikzpicture}
\end{document}
